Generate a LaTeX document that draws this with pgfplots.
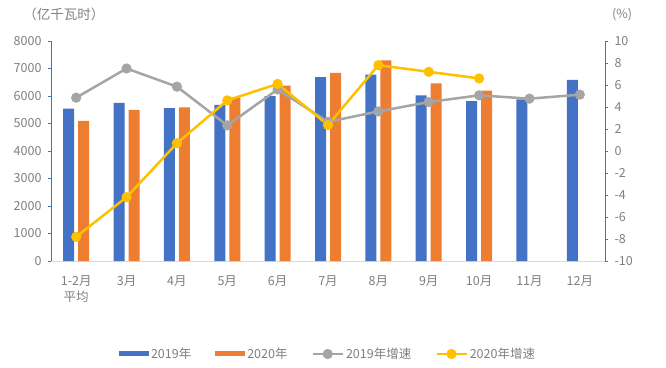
\documentclass[border=0pt]{standalone}
\usepackage{pgfplots}
\pgfplotsset{compat=1.18}
\usepackage{fontspec}
\setmainfont{Noto Sans CJK SC}
\definecolor{c19}{HTML}{4472C4}
\definecolor{c20}{HTML}{ED7D31}
\definecolor{g19}{HTML}{A5A5A5}
\definecolor{g20}{HTML}{FFC000}
\definecolor{txt}{HTML}{7F7F7F}
\definecolor{axblue}{HTML}{4472C4}
\definecolor{base}{HTML}{D9D9D9}
\pgfplotsset{
  barleg/.style={legend image code/.code={\fill[##1] (0pt,-2.5pt) rectangle (30pt,2.5pt);}},
  lineleg/.style={legend image code/.code={\draw[##1, mark repeat=2, mark phase=2] plot coordinates {(0pt,0pt) (15pt,0pt) (30pt,0pt)};}},
  common/.style={scale only axis, width=554pt, height=220pt, at={(0pt,0pt)}, anchor=south west,
  xmin=-0.5, xmax=10.5, /pgf/number format/assume math mode=true,
  tick label style={text=txt, font=\fontsize{12.5}{16}\selectfont},
  tick align=outside, major tick length=3pt,
  /pgf/number format/set thousands separator={}}}
\begin{document}
\begin{tikzpicture}[font=\fontsize{12.5}{16}\selectfont]
\path[use as bounding box] (-51pt,-106pt) rectangle (615pt,261pt);
\begin{axis}[common, ybar, bar width=11pt, ymin=0, ymax=8000, ytick={0,1000,...,8000},
  axis x line*=bottom, axis y line*=left,
  x axis line style={draw=base, line width=0.8pt},
  y axis line style={draw=axblue, line width=0.8pt},
  ytick style={draw=axblue, line width=0.8pt}, xtick style={draw=none},
  yticklabel style={xshift=-3pt},
  xtick={0,...,10},
  xticklabels={{1-2月\\平均},3月,4月,5月,6月,7月,8月,9月,10月,11月,12月},
  xticklabel style={align=center, anchor=north, yshift=-8pt}]
\addplot[fill=c19, draw=none, bar shift=-7.5pt] coordinates {(0,5540) (1,5750) (2,5560) (3,5680) (4,6000) (5,6690) (6,6780) (7,6020) (8,5810) (9,5880) (10,6590)};
\addplot[fill=c20, draw=none, bar shift=7.5pt] coordinates {(0,5100) (1,5500) (2,5590) (3,5950) (4,6375) (5,6840) (6,7300) (7,6460) (8,6200)};
\end{axis}
\begin{axis}[common, ymin=-10, ymax=10, ytick={-10,-8,...,10},
  axis y line*=right, axis x line=none,
  y axis line style={draw=axblue, line width=0.8pt},
  ytick style={draw=axblue, line width=0.8pt},
  yticklabel style={xshift=3pt},
  legend columns=4,
  legend style={at={(0.5,-0.4227)}, anchor=center, draw=none, fill=none, text=txt,
    font=\fontsize{12.5}{14}\selectfont,
    /tikz/every even column/.append style={column sep=22pt}},
  legend cell align=left, lineleg]
\addlegendimage{fill=c19, draw=none, barleg}
\addlegendentry{2019年}
\addlegendimage{fill=c20, draw=none, barleg}
\addlegendentry{2020年}
\addplot[g19, line width=2.5pt, mark=*, mark size=3.8pt, mark options={solid}] coordinates {(0,4.85) (1,7.5) (2,5.85) (3,2.33) (4,5.6) (5,2.65) (6,3.6) (7,4.45) (8,5.06) (9,4.76) (10,5.12)};
\addlegendentry{2019年增速}
\addplot[g20, line width=2.5pt, mark=*, mark size=3.8pt, mark options={solid}] coordinates {(0,-7.8) (1,-4.2) (2,0.7) (3,4.6) (4,6.1) (5,2.36) (6,7.8) (7,7.2) (8,6.6)};
\addlegendentry{2020年增速}
\end{axis}
\node[text=txt, font=\fontsize{13.5}{14}\selectfont] at (13pt,247pt) {（亿千瓦时）};
\node[text=txt, font=\fontsize{12.5}{14}\selectfont] at (571pt,246pt) {(\%)};
\end{tikzpicture}
\end{document}
